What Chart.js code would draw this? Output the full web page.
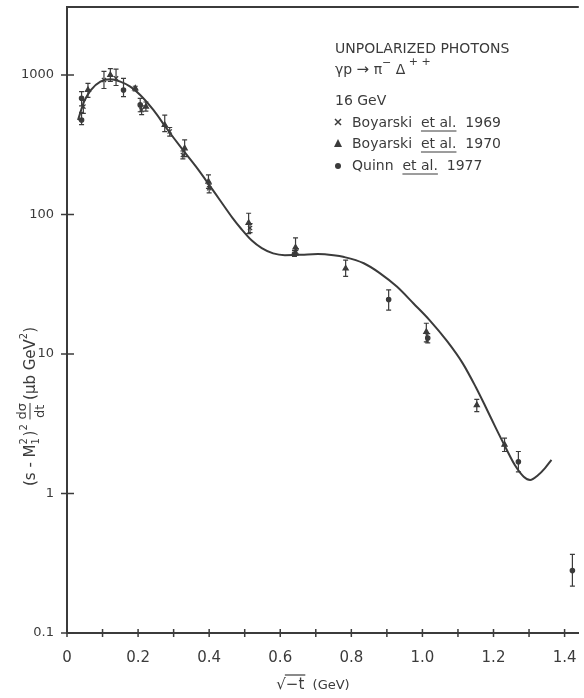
<!DOCTYPE html>
<html>
<head>
<meta charset="utf-8">
<script src="https://cdn.jsdelivr.net/npm/chart.js@4.4.1/dist/chart.umd.min.js"></script>
<style>
  html, body { margin: 0; padding: 0; background: #fff; overflow: hidden; }
  #chart { display: block; }
</style>
</head>
<body>
<canvas id="chart" width="584" height="698"></canvas>
<script>
const INK = '#3b3b3b';
const FONT = "'DejaVu Sans', sans-serif";

/* ── axes ─────────────────────────────────────────────── */
const xTicks = [0, 0.1, 0.2, 0.3, 0.4, 0.5, 0.6, 0.7, 0.8, 0.9, 1.0, 1.1, 1.2, 1.3, 1.4];
const yTicks = [0.1, 1, 10, 100, 1000];

/* ── Boyarski et al. 1969 (x) ─────────────────────────── */
const boy69X  = [0.046, 0.104, 0.138, 0.210, 0.289, 0.326, 0.400, 0.515, 0.645];
const boy69Y  = [593, 920, 946, 561, 393, 267, 154, 80, 54];
const boy69Lo = [530, 800, 840, 520, 365, 250, 143, 74, 51];
const boy69Hi = [660, 1060, 1100, 600, 420, 285, 165, 86, 57];

/* ── Boyarski et al. 1970 (triangle) ──────────────────── */
const boy70X  = [0.059, 0.122, 0.192, 0.222, 0.275, 0.331, 0.398, 0.511, 0.643, 0.784, 1.011, 1.153, 1.231];
const boy70Y  = [780, 1000, 802, 593, 438, 298, 172, 87, 58, 41, 14.4, 4.3, 2.24];
const boy70Lo = [690, 900, 770, 550, 393, 260, 154, 73, 52, 36, 12.2, 3.86, 2.0];
const boy70Hi = [870, 1110, 830, 640, 516, 342, 192, 102, 68, 47, 16.6, 4.73, 2.49];

/* ── Quinn et al. 1977 (dot) ──────────────────────────── */
const quinnX  = [0.041, 0.041, 0.159, 0.206, 0.640, 0.905, 1.015, 1.270, 1.422];
const quinnY  = [681, 475, 780, 610, 52, 24.6, 13, 1.69, 0.28];
const quinnLo = [600, 440, 700, 545, 50, 20.6, 12, 1.43, 0.217];
const quinnHi = [760, 540, 946, 680, 55, 28.8, 14, 2.0, 0.366];

/* ── model curve ──────────────────────────────────────── */
const curveX = [0.031, 0.048, 0.067, 0.094, 0.122, 0.150, 0.178, 0.206, 0.243, 0.280, 0.326, 0.363, 0.400,
                0.430, 0.465, 0.490, 0.520, 0.548, 0.580, 0.613, 0.660, 0.706, 0.750, 0.780, 0.835, 0.880,
                0.928, 0.975, 1.020, 1.070, 1.113, 1.150, 1.178, 1.205, 1.233, 1.260, 1.285, 1.303, 1.325,
                1.345, 1.363];
const curveY = [475, 644, 780, 896, 931, 896, 824, 719, 561, 415, 290, 220, 163,
                127, 95, 79, 65, 57.4, 52.6, 51.1, 51.5, 52, 51, 49.5, 44.7, 38,
                30.4, 23, 17.5, 12.3, 8.6, 5.8, 4.17, 3.0, 2.16, 1.6, 1.32, 1.25, 1.35,
                1.52, 1.74];

const toPts = (xs, ys) => xs.map((x, i) => ({ x, y: ys[i] }));

/* ── error bars ───────────────────────────────────────── */
const errorBars = {
  id: 'errorBars',
  beforeDatasetsDraw(chart) {
    const { ctx, scales: { x, y } } = chart;
    ctx.save();
    ctx.strokeStyle = INK;
    ctx.lineWidth = 1.2;
    chart.data.datasets.forEach(ds => {
      if (!ds.errLo) return;
      ds.data.forEach((p, i) => {
        const px = x.getPixelForValue(p.x);
        const y1 = y.getPixelForValue(ds.errLo[i]);
        const y2 = y.getPixelForValue(ds.errHi[i]);
        ctx.beginPath();
        ctx.moveTo(px, y1); ctx.lineTo(px, y2);
        ctx.moveTo(px - 2.5, y1); ctx.lineTo(px + 2.5, y1);
        ctx.moveTo(px - 2.5, y2); ctx.lineTo(px + 2.5, y2);
        ctx.stroke();
      });
    });
    ctx.restore();
  },
};

/* draw a row of text pieces, sub/superscripts via dy */
function runs(ctx, x, y, parts) {
  parts.forEach(p => {
    ctx.font = `${p.s || 14}px ${FONT}`;
    ctx.fillText(p.t, x, y + (p.dy || 0));
    const w = ctx.measureText(p.t).width;
    if (p.u) {
      ctx.save();
      ctx.lineWidth = 1;
      ctx.beginPath();
      ctx.moveTo(x, y + 4); ctx.lineTo(x + w, y + 4);
      ctx.stroke();
      ctx.restore();
    }
    if (!p.stay) x += w;
  });
  return x;
}

/* ── frame, cross ticks, titles, legend ───────────────── */
const decorations = {
  id: 'decorations',
  afterDraw(chart) {
    const { ctx, chartArea: a, scales: { x, y } } = chart;
    ctx.save();
    ctx.strokeStyle = INK;
    ctx.fillStyle = INK;

    // top frame line
    ctx.lineWidth = 2;
    ctx.beginPath();
    ctx.moveTo(a.left, a.top); ctx.lineTo(a.right, a.top);
    ctx.stroke();

    // cross ticks
    ctx.lineWidth = 1.5;
    ctx.beginPath();
    yTicks.forEach(v => {
      const py = y.getPixelForValue(v);
      ctx.moveTo(a.left - 6, py); ctx.lineTo(a.left + 7, py);
    });
    xTicks.forEach(v => {
      const px = x.getPixelForValue(v);
      ctx.moveTo(px, a.bottom - 4); ctx.lineTo(px, a.bottom + 4);
    });
    ctx.stroke();

    // legend block
    ctx.textAlign = 'left';
    ctx.textBaseline = 'alphabetic';
    runs(ctx, 335, 53, [{ t: 'UNPOLARIZED PHOTONS' }]);
    runs(ctx, 335, 74, [
      { t: 'γp ' }, { t: '→', s: 15 }, { t: ' π' },
      { t: '−', s: 11, dy: -8 }, { t: ' Δ' }, { t: ' + +', s: 11, dy: -9 },
    ]);
    runs(ctx, 335, 105, [{ t: '16 GeV' }]);
    runs(ctx, 352, 127, [{ t: 'Boyarski  ' }, { t: 'et al.', u: true }, { t: '  1969' }]);
    runs(ctx, 352, 148, [{ t: 'Boyarski  ' }, { t: 'et al.', u: true }, { t: '  1970' }]);
    runs(ctx, 352, 170, [{ t: 'Quinn  ' }, { t: 'et al.', u: true }, { t: '  1977' }]);

    // legend symbols
    ctx.lineWidth = 1.5;
    ctx.beginPath();
    ctx.moveTo(335, 119); ctx.lineTo(341, 125);
    ctx.moveTo(341, 119); ctx.lineTo(335, 125);
    ctx.stroke();
    ctx.beginPath();
    ctx.moveTo(338, 139); ctx.lineTo(342, 147); ctx.lineTo(334, 147); ctx.closePath();
    ctx.fill();
    ctx.beginPath();
    ctx.arc(338, 166, 3, 0, Math.PI * 2);
    ctx.fill();

    // x-axis title: sqrt(-t) (GeV)
    ctx.font = `15px ${FONT}`;
    const rad = '√', arg = '−t', unit = '  (GeV)';
    const wr = ctx.measureText(rad).width;
    const wa = ctx.measureText(arg).width;
    ctx.font = `13px ${FONT}`;
    const wu = ctx.measureText(unit).width;
    let tx = 313 - (wr + wa + wu) / 2;
    const ty = 689;
    ctx.font = `15px ${FONT}`;
    ctx.fillText(rad, tx, ty);
    ctx.fillText(arg, tx + wr, ty);
    ctx.lineWidth = 1.2;
    ctx.beginPath();
    ctx.moveTo(tx + wr - 1, ty - 14); ctx.lineTo(tx + wr + wa + 1, ty - 14);
    ctx.stroke();
    ctx.font = `13px ${FONT}`;
    ctx.fillText(unit, tx + wr + wa, ty);

    // y-axis title, rotated
    ctx.save();
    ctx.translate(35, 486);
    ctx.rotate(-Math.PI / 2);
    let cx = runs(ctx, 0, 0, [{ t: '(s - M', s: 15 }]);
    runs(ctx, cx, 0, [{ t: '2', s: 10, dy: -8, stay: true }, { t: '1', s: 10, dy: 4 }]);
    cx += 8;
    cx = runs(ctx, cx, 0, [{ t: ')', s: 15 }, { t: '2', s: 10, dy: -8 }, { t: ' ', s: 15 }]);
    ctx.font = `13px ${FONT}`;
    const fw = ctx.measureText('dσ').width;
    ctx.fillText('dσ', cx, -9);
    ctx.fillText('dt', cx + (fw - ctx.measureText('dt').width) / 2, 9);
    ctx.lineWidth = 1;
    ctx.beginPath();
    ctx.moveTo(cx, -5); ctx.lineTo(cx + fw, -5);
    ctx.stroke();
    cx += fw + 3;
    runs(ctx, cx, 0, [{ t: '(μb GeV', s: 15 }, { t: '2', s: 10, dy: -8 }, { t: ')', s: 15 }]);
    ctx.restore();

    ctx.restore();
  },
};

const markerBase = {
  backgroundColor: INK,
  borderColor: INK,
  borderWidth: 1.2,
  showLine: false,
  order: 1,
};

new Chart(document.getElementById('chart'), {
  type: 'scatter',
  data: {
    datasets: [
      {
        label: 'model',
        data: toPts(curveX, curveY),
        showLine: true,
        borderColor: INK,
        borderWidth: 2,
        pointRadius: 0,
        cubicInterpolationMode: 'monotone',
        fill: false,
        order: 0,
      },
      { ...markerBase, label: 'Boyarski et al. 1969', data: toPts(boy69X, boy69Y),
        errLo: boy69Lo, errHi: boy69Hi, pointStyle: 'crossRot', pointRadius: 3 },
      { ...markerBase, label: 'Boyarski et al. 1970', data: toPts(boy70X, boy70Y),
        errLo: boy70Lo, errHi: boy70Hi, pointStyle: 'triangle', pointRadius: 3 },
      { ...markerBase, label: 'Quinn et al. 1977', data: toPts(quinnX, quinnY),
        errLo: quinnLo, errHi: quinnHi, pointStyle: 'circle', pointRadius: 2.2 },
    ],
  },
  options: {
    responsive: false,
    animation: false,
    layout: { padding: { top: 7, right: 0, left: 0, bottom: 0 } },
    plugins: { legend: { display: false }, tooltip: { enabled: false } },
    scales: {
      x: {
        type: 'linear',
        min: 0,
        max: 1.44,
        afterBuildTicks: s => { s.ticks = xTicks.map(v => ({ value: v })); },
        afterFit: s => { s.height = 65; s.paddingLeft = 0; s.paddingRight = 0; },
        ticks: {
          autoSkip: false,
          maxRotation: 0,
          padding: 8,
          color: INK,
          font: { family: FONT, size: 15 },
          callback: v => {
            const k = Math.round(v * 10);
            if (k % 2) return '';
            return k === 0 ? '0' : v.toFixed(1);
          },
        },
        grid: { display: false },
        border: { display: true, color: INK, width: 2 },
      },
      y: {
        type: 'logarithmic',
        min: 0.1,
        max: 3070,
        afterBuildTicks: s => { s.ticks = yTicks.map(v => ({ value: v })); },
        afterFit: s => { s.width = 67; s.paddingTop = 0; s.paddingBottom = 0; },
        ticks: {
          autoSkip: false,
          padding: 5,
          color: INK,
          font: { family: FONT, size: 13 },
          callback: v => String(v),
        },
        grid: { display: false },
        border: { display: true, color: INK, width: 2 },
      },
    },
  },
  plugins: [errorBars, decorations],
});
</script>
</body>
</html>
